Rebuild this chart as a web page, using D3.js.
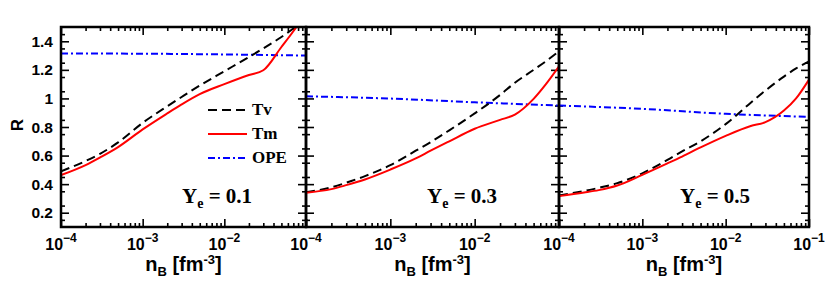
<!DOCTYPE html>
<html>
<head>
<meta charset="utf-8">
<script src="https://cdn.jsdelivr.net/npm/d3@7"></script>
<style>
  body { margin: 0; background: #fff; }
  svg { display: block; }
  .tick text { display: none; }
  .domain { display: none; }
</style>
</head>
<body>
<svg id="chart" width="830" height="284"></svg>
<script>
// baryon density points (fm^-3)
var nB = [1e-4, 2e-4, 3e-4, 5e-4, 1e-3, 2e-3, 3e-3, 5e-3, 1e-2, 2e-2, 3e-2, 5e-2, 7e-2, 1e-1];

// Tv (dashed black) and Tm (red) for each Ye
var tv01 = [0.49, 0.562, 0.612, 0.692, 0.829, 0.945, 1.01, 1.09, 1.19, 1.29, 1.35, 1.43, 1.49, 1.56];
var tm01 = [0.463, 0.533, 0.586, 0.659, 0.783, 0.895, 0.958, 1.03, 1.10, 1.164, 1.197, 1.36, 1.47, 1.60];
var tv03 = [0.344, 0.378, 0.41, 0.456, 0.533, 0.634, 0.694, 0.777, 0.895, 1.024, 1.11, 1.20, 1.26, 1.33];
var tm03 = [0.34, 0.365, 0.393, 0.433, 0.502, 0.58, 0.634, 0.70, 0.788, 0.85, 0.887, 0.997, 1.10, 1.225];
var tv05 = [0.321, 0.352, 0.374, 0.407, 0.476, 0.57, 0.629, 0.70, 0.82, 0.97, 1.055, 1.153, 1.21, 1.26];
var tm05 = [0.316, 0.341, 0.358, 0.39, 0.465, 0.545, 0.593, 0.657, 0.738, 0.807, 0.834, 0.915, 1.0, 1.132];

// OPE (blue dash-dot)
var opeN = [1e-4, 1e-3, 1e-2, 1e-1];
var ope01 = [1.315, 1.313, 1.308, 1.30];
var ope03 = [1.015, 0.999, 0.973, 0.95];
var ope05 = [0.95, 0.927, 0.892, 0.871];

var yeLabels = ["0.1", "0.3", "0.5"];
var yTicks = [0.2, 0.4, 0.6, 0.8, 1, 1.2, 1.4];
var xTickExp = [-4, -3, -2, -1];
var legendNames = ["Tv", "Tm", "OPE"];

var panels = [
  { x0: 61, x1: 306, tv: tv01, tm: tm01, ope: ope01, exps: [-4, -3, -2] },
  { x0: 306, x1: 559, tv: tv03, tm: tm03, ope: ope03, exps: [-4, -3, -2] },
  { x0: 559, x1: 809, tv: tv05, tm: tm05, ope: ope05, exps: [-4, -3, -2, -1] }
];

var plotTop = 27, plotBottom = 227;
var svg = d3.select("#chart");
var y = d3.scaleLinear().domain([0.1, 1.5]).range([plotBottom, plotTop]);

var styles = {
  Tv: { color: "#000", dash: "9,5" },
  Tm: { color: "#ff0000", dash: null },
  OPE: { color: "#0000ff", dash: "7,3,2,3" }
};

var minorX = [];
for (var e = -4; e < -1; e++) {
  for (var k = 2; k <= 9; k++) minorX.push(k * Math.pow(10, e));
}
var minorY = d3.range(0.15, 1.5, 0.1).map(function (d) { return +d.toFixed(2); });
var majorX = xTickExp.map(function (e) { return Math.pow(10, e); });

panels.forEach(function (p, i) {
  var x = d3.scaleLog().domain([1e-4, 1e-1]).range([p.x0, p.x1]);
  var w = p.x1 - p.x0;
  var g = svg.append("g");

  svg.append("clipPath").attr("id", "clip" + i)
    .append("rect").attr("x", p.x0).attr("y", plotTop).attr("width", w).attr("height", plotBottom - plotTop);

  // ticks, all pointing inward
  g.append("g").attr("transform", "translate(0," + plotBottom + ")")
    .call(d3.axisBottom(x).tickValues(majorX).tickSize(-8).tickFormat(""));
  g.append("g").attr("transform", "translate(0," + plotBottom + ")")
    .call(d3.axisBottom(x).tickValues(minorX).tickSize(-4).tickFormat(""));
  g.append("g").attr("transform", "translate(0," + plotTop + ")")
    .call(d3.axisTop(x).tickValues(majorX).tickSize(-8).tickFormat(""));
  g.append("g").attr("transform", "translate(0," + plotTop + ")")
    .call(d3.axisTop(x).tickValues(minorX).tickSize(-4).tickFormat(""));
  g.append("g").attr("transform", "translate(" + p.x0 + ",0)")
    .call(d3.axisLeft(y).tickValues(yTicks).tickSize(-8).tickFormat(""));
  g.append("g").attr("transform", "translate(" + p.x0 + ",0)")
    .call(d3.axisLeft(y).tickValues(minorY).tickSize(-4).tickFormat(""));
  g.append("g").attr("transform", "translate(" + p.x1 + ",0)")
    .call(d3.axisRight(y).tickValues(yTicks).tickSize(-8).tickFormat(""));
  g.append("g").attr("transform", "translate(" + p.x1 + ",0)")
    .call(d3.axisRight(y).tickValues(minorY).tickSize(-4).tickFormat(""));
  g.selectAll(".tick line").attr("stroke", "#000").attr("stroke-width", 1.6);

  // curves
  var lines = g.append("g").attr("clip-path", "url(#clip" + i + ")");
  var line = d3.line().curve(d3.curveMonotoneX)
    .x(function (d) { return x(d[0]); }).y(function (d) { return y(d[1]); });
  var series = [
    { name: "OPE", pts: d3.zip(opeN, p.ope) },
    { name: "Tv", pts: d3.zip(nB, p.tv) },
    { name: "Tm", pts: d3.zip(nB, p.tm) }
  ];
  series.forEach(function (s) {
    lines.append("path").attr("d", line(s.pts))
      .attr("fill", "none")
      .attr("stroke", styles[s.name].color)
      .attr("stroke-width", 2)
      .attr("stroke-dasharray", styles[s.name].dash);
  });

  // frame
  g.append("rect").attr("x", p.x0).attr("y", plotTop).attr("width", w).attr("height", plotBottom - plotTop)
    .attr("fill", "none").attr("stroke", "#000").attr("stroke-width", 2.5);

  // x tick labels
  p.exps.forEach(function (e) {
    var t = g.append("text").attr("x", x(Math.pow(10, e))).attr("y", 250)
      .attr("text-anchor", "middle")
      .attr("font-family", "Liberation Sans, Arial, sans-serif").attr("font-weight", "bold")
      .attr("font-size", 16);
    t.append("tspan").text("10");
    t.append("tspan").attr("dy", -8).attr("font-size", 12).text("\u2212" + (-e));
  });

  // x axis title
  var tt = g.append("text").attr("x", p.x0 + w / 2).attr("y", 271)
    .attr("text-anchor", "middle")
    .attr("font-family", "Liberation Sans, Arial, sans-serif").attr("font-weight", "bold")
    .attr("font-size", 20);
  tt.append("tspan").text("n");
  tt.append("tspan").attr("dy", 5).attr("font-size", 13).text("B");
  tt.append("tspan").attr("dy", -5).text(" [fm");
  tt.append("tspan").attr("dy", -7).attr("font-size", 13).text("-3");
  tt.append("tspan").attr("dy", 7).text("]");

  // Ye label
  var yl = g.append("text").attr("x", p.x0 + 121).attr("y", 203)
    .attr("font-family", "Liberation Serif, Times New Roman, serif").attr("font-weight", "bold")
    .attr("font-size", 21);
  yl.append("tspan").text("Y");
  yl.append("tspan").attr("dy", 5).attr("font-size", 14).text("e");
  yl.append("tspan").attr("dy", -5).text(" = " + yeLabels[i]);
});

// y tick labels on the first panel
svg.append("g").selectAll("text").data(yTicks).enter().append("text")
  .attr("x", 53).attr("y", function (d) { return y(d) + 5.5; })
  .attr("text-anchor", "end")
  .attr("font-family", "Liberation Sans, Arial, sans-serif").attr("font-weight", "bold")
  .attr("font-size", 15.5)
  .text(function (d) { return d; });

svg.append("text").attr("transform", "translate(23,125) rotate(-90)")
  .attr("text-anchor", "middle")
  .attr("font-family", "Liberation Sans, Arial, sans-serif").attr("font-weight", "bold")
  .attr("font-size", 17).text("R");

// legend
var lg = svg.append("g");
legendNames.forEach(function (name, j) {
  var ly = 110 + j * 24;
  lg.append("line").attr("x1", 208).attr("x2", 247).attr("y1", ly).attr("y2", ly)
    .attr("stroke", styles[name].color).attr("stroke-width", 2)
    .attr("stroke-dasharray", styles[name].dash);
  lg.append("text").attr("x", 252).attr("y", ly + 5)
    .attr("font-family", "Liberation Serif, Times New Roman, serif").attr("font-weight", "bold")
    .attr("font-size", 17).text(name);
});
</script>
</body>
</html>
